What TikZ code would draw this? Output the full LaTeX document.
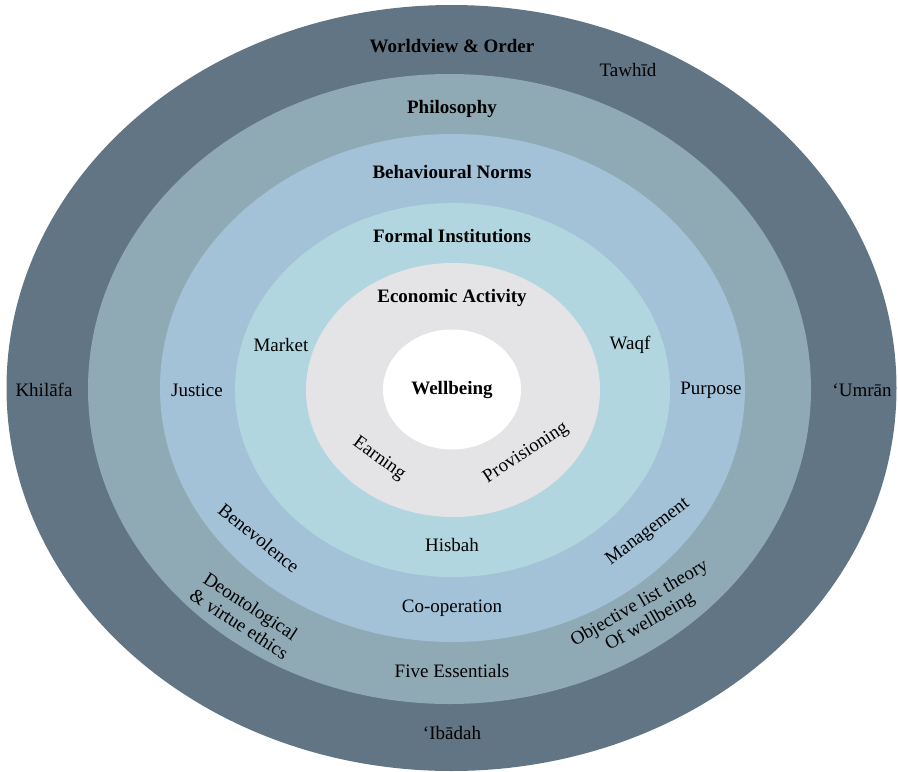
\documentclass[tikz,border=0pt]{standalone}
\usepackage{fontspec}
\setmainfont{Liberation Serif}
\usepackage{tikz}

\definecolor{worldcol}{HTML}{627584}
\definecolor{philcol}{HTML}{8FAAB5}
\definecolor{normcol}{HTML}{A3C2D7}
\definecolor{instcol}{HTML}{B1D6DF}
\definecolor{ecocol}{HTML}{E4E4E6}

\begin{document}
\begin{tikzpicture}[x=1pt,y=-1pt,
    lbl/.style={inner sep=0pt,font=\fontsize{19}{21}\selectfont,align=center},
    hdr/.style={lbl,font=\fontsize{19}{21}\selectfont\bfseries}]
    \useasboundingbox (0,0) rectangle (898,772);

    % rings, outside in
    \fill[worldcol] (451.5,388) ellipse [x radius=445pt, y radius=383pt];
    \fill[philcol] (449.5,389) ellipse [x radius=361.5pt, y radius=315pt];
    \fill[normcol] (452.5,388) ellipse [x radius=292.5pt, y radius=254pt];
    \fill[instcol] (452.5,390) ellipse [x radius=217.5pt, y radius=187pt];
    \fill[ecocol] (453,390) ellipse [x radius=147pt, y radius=127pt];
    \fill[white] (452,389.5) ellipse [x radius=69pt, y radius=60pt];

    % headings
    \node[hdr] (world) at (452,46) {Worldview \& Order};
    \node[hdr] (phil) at (452,109) {Philosophy};
    \node[hdr] (norms) at (452,172) {Behavioural Norms};
    \node[hdr] (inst) at (452,236) {Formal Institutions};
    \node[hdr] (eco) at (452,298) {Economic Activity};
    \node[hdr] (well) at (452,390) {Wellbeing};

    % outer ring
    \node[lbl] (tawhid) at (628,70) {Tawhīd};
    \node[lbl] (khilafa) at (44,390) {Khilāfa};
    \node[lbl] (umran) at (862,390) {‘Umrān};
    \node[lbl] (ibadah) at (452,733) {‘Ibādah};

    % philosophy ring
    \node[lbl,rotate=-33] (deont) at (245,615) {Deontological\\\& virtue ethics};
    \node[lbl,rotate=30] (objlist) at (645,613) {Objective list theory\\Of wellbeing};
    \node[lbl] (five) at (452,671) {Five Essentials};

    % norms ring
    \node[lbl] (justice) at (197,390) {Justice};
    \node[lbl] (purpose) at (711,390) {Purpose};
    \node[lbl,rotate=-39] (benev) at (259,538) {Benevolence};
    \node[lbl,rotate=37] (manage) at (648,532) {Management};
    \node[lbl] (coop) at (452,608) {Co-operation};

    % institutions ring
    \node[lbl] (market) at (281,345) {Market};
    \node[lbl] (waqf) at (630,345) {Waqf};
    \node[lbl] (hisbah) at (452,545) {Hisbah};

    % economic activity ring
    \node[lbl,rotate=-36] (earning) at (379,459) {Earning};
    \node[lbl,rotate=33] (provis) at (526,453) {Provisioning};
\end{tikzpicture}
\end{document}
